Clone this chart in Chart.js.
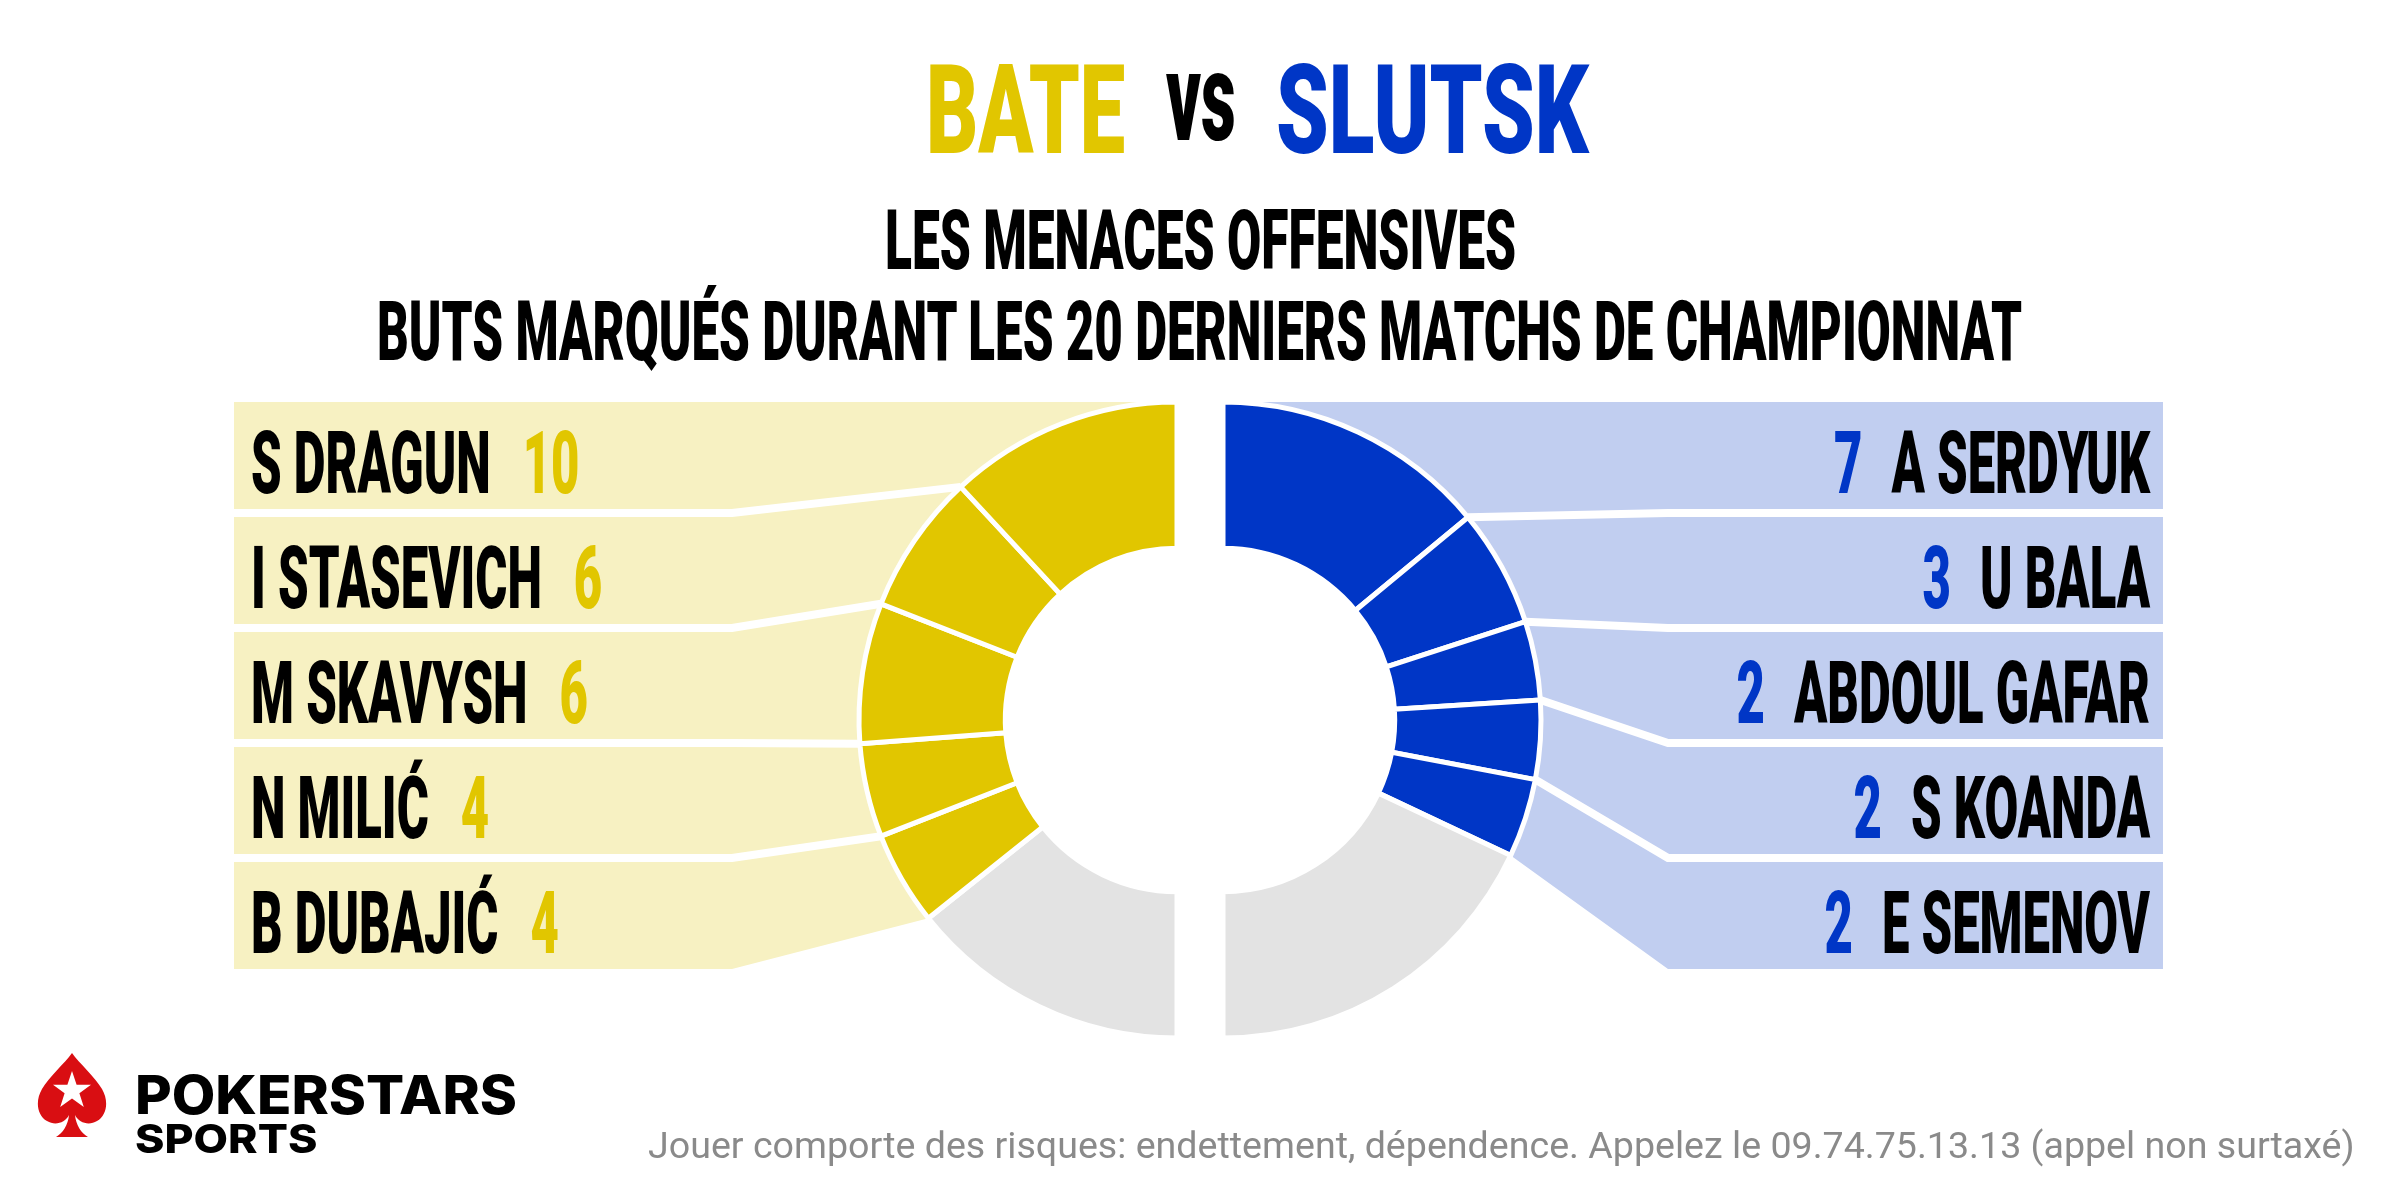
<!DOCTYPE html>
<html lang="fr">
<head>
<meta charset="utf-8">
<title>BATE vs SLUTSK - les menaces offensives</title>
<script src="https://cdn.jsdelivr.net/npm/chart.js@4.4.1/dist/chart.umd.min.js"></script>
<style>
  html, body { margin: 0; padding: 0; background: #fff; }
  #page { position: relative; width: 2400px; height: 1200px; overflow: hidden; background: #fff; }
  #page canvas { position: absolute; top: 0; }
  #leftChart { left: 0; }
  #rightChart { left: 1200px; }
  .txt { position: absolute; white-space: nowrap; line-height: 1; font-family: Roboto, sans-serif; transform-origin: 0 0; }
  .title { font-size: 125px; font-weight: 900; }
  .sub { font-size: 84px; font-weight: 900; color: #000; }
  .logo { font-family: Inter, Roboto, sans-serif; font-weight: 800; color: #000; }
  #footer { font-size: 36px; font-weight: 400; color: #8a8a8a; }
  #spade { position: absolute; left: 37px; top: 1053px; }
</style>
</head>
<body>
<div id="page">
  <canvas id="leftChart" width="1200" height="1200"></canvas>
  <canvas id="rightChart" width="1200" height="1200"></canvas>

  <div class="txt title" id="tBate" style="color:#E1C600">BATE</div>
  <div class="txt title" id="tVs" style="color:#000">vs</div>
  <div class="txt title" id="tSlutsk" style="color:#0036C6">SLUTSK</div>
  <div class="txt sub" id="sub1">LES MENACES OFFENSIVES</div>
  <div class="txt sub" id="sub2">BUTS MARQUÉS DURANT LES 20 DERNIERS MATCHS DE CHAMPIONNAT</div>

  <svg id="spade" width="70" height="84" viewBox="0 0 70 84">
    <path fill="#D90E12" d="M35,0 C28,10 12,24 5,36 C-2,48 0,62 10,68 C18,73 28,70 32,62 C31,72 26,80 19,84 L51,84 C44,80 39,72 38,62 C42,70 52,73 60,68 C70,62 72,48 65,36 C58,24 42,10 35,0 Z"/>
    <path fill="#fff" d="M35,18 L39.6,31.7 L54,31.8 L42.4,40.3 L46.8,54 L35,45.6 L23.2,54 L27.6,40.3 L16,31.8 L30.4,31.7 Z"/>
  </svg>
  <div class="txt logo" id="logo1" style="font-size:53px">POKERSTARS</div>
  <div class="txt logo" id="logo2" style="font-size:40px">SPORTS</div>

  <div class="txt" id="footer">Jouer comporte des risques: endettement, dépendence. Appelez le 09.74.75.13.13 (appel non surtaxé)</div>
</div>

<script>
// ---- data ----
const bateNames = ['S DRAGUN', 'I STASEVICH', 'M SKAVYSH', 'N MILIĆ', 'B DUBAJIĆ'];
const bateGoals = [10, 6, 6, 4, 4];
const bateOther = 12;

const slutskNames = ['A SERDYUK', 'U BALA', 'ABDOUL GAFAR', 'S KOANDA', 'E SEMENOV'];
const slutskGoals = [7, 3, 2, 2, 2];
const slutskOther = 9;

// ---- look ----
const YELLOW = '#E1C600';
const YELLOW_LIGHT = '#F7F1C2';
const BLUE = '#0036C6';
const BLUE_LIGHT = '#C1CEF0';
const GREY = '#E3E3E3';

const CY = 720;          // donut centre (both halves)
const RADIUS = 318;
const CX_LEFT = 1177;
const CX_RIGHT = 1223;

const BAND_TOP = 402;
const ROW_H = 107;
const GAP = 8;
const LABEL_FONT = '900 87px Roboto';
const NARROW = 0.563;    // horizontal squeeze for the condensed labels

function rowLine(k, n) {
    if (k === 0) return BAND_TOP;
    if (k === n) return BAND_TOP + n * ROW_H + (n - 1) * GAP;
    return BAND_TOP + k * (ROW_H + GAP) - GAP / 2;
}

function drawNarrow(ctx, text, x, y, align, color) {
    ctx.save();
    ctx.translate(x, y);
    ctx.scale(NARROW, 1);
    ctx.textAlign = align;
    ctx.fillStyle = color;
    ctx.fillText(text, 0, 0);
    ctx.restore();
    return ctx.measureText(text).width * NARROW;
}

// outer points of the slice boundaries, top row first
function boundaryPoints(chart, side, n) {
    const arcs = chart.getDatasetMeta(0).data;
    const pts = [];
    for (let i = 0; i <= n; i++) {
        let a, ang;
        if (side === 'left') {
            a = arcs[Math.max(n - i, 1)];
            ang = i < n ? a.endAngle : a.startAngle;
        } else {
            a = arcs[Math.min(i, n - 1)];
            ang = i < n ? a.startAngle : a.endAngle;
        }
        pts.push([a.x + a.outerRadius * Math.cos(ang), a.y + a.outerRadius * Math.sin(ang)]);
    }
    return pts;
}

const bandPlugin = {
    id: 'bands',
    beforeDatasetsDraw(chart, args, opts) {
        const ctx = chart.ctx;
        const n = opts.names.length;
        const pts = boundaryPoints(chart, opts.side, n);

        ctx.save();
        ctx.fillStyle = opts.light;
        for (let i = 0; i < n; i++) {
            const y0 = rowLine(i, n), y1 = rowLine(i + 1, n);
            ctx.beginPath();
            ctx.moveTo(opts.edge, y0);
            ctx.lineTo(opts.kink, y0);
            ctx.lineTo(pts[i][0], pts[i][1]);
            ctx.lineTo(pts[i + 1][0], pts[i + 1][1]);
            ctx.lineTo(opts.kink, y1);
            ctx.lineTo(opts.edge, y1);
            ctx.closePath();
            ctx.fill();
        }
        // white separators between the bands
        ctx.strokeStyle = '#fff';
        ctx.lineWidth = GAP;
        ctx.lineJoin = 'miter';
        for (let k = 1; k < n; k++) {
            const y = rowLine(k, n);
            ctx.beginPath();
            ctx.moveTo(opts.edge, y);
            ctx.lineTo(opts.kink, y);
            ctx.lineTo(pts[k][0], pts[k][1]);
            ctx.stroke();
        }
        ctx.restore();
    },
    afterDatasetsDraw(chart, args, opts) {
        const ctx = chart.ctx;
        ctx.save();
        ctx.font = LABEL_FONT;
        ctx.textBaseline = 'alphabetic';
        opts.names.forEach((name, i) => {
            const base = BAND_TOP + i * (ROW_H + GAP) + 91;
            if (opts.side === 'left') {
                const x = opts.edge + 17;
                const w = drawNarrow(ctx, name, x, base, 'left', '#000');
                drawNarrow(ctx, String(opts.values[i]), x + w + 32, base, 'left', opts.dark);
            } else {
                const x = opts.edge - 13;
                const w = drawNarrow(ctx, name, x, base, 'right', '#000');
                drawNarrow(ctx, String(opts.values[i]), x - w - 29, base, 'right', opts.dark);
            }
        });
        ctx.restore();
    }
};

function halfDonut(canvasId, cfg) {
    return new Chart(document.getElementById(canvasId), {
        type: 'doughnut',
        data: {
            labels: cfg.labels,
            datasets: [{
                data: cfg.data,
                backgroundColor: cfg.colors,
                borderColor: '#fff',
                borderWidth: 5
            }]
        },
        options: {
            responsive: false,
            animation: false,
            events: [],
            rotation: cfg.rotation,
            circumference: 180,
            cutout: '54%',
            radius: RADIUS,
            layout: { padding: cfg.padding },
            plugins: {
                legend: { display: false },
                tooltip: { enabled: false },
                bands: cfg.bands
            }
        },
        plugins: [bandPlugin]
    });
}

// BATE: left half, drawn clockwise from the bottom, so the list is reversed
halfDonut('leftChart', {
    labels: ['Autres'].concat(bateNames.slice().reverse()),
    data: [bateOther].concat(bateGoals.slice().reverse()),
    colors: [GREY].concat(bateGoals.map(() => YELLOW)),
    rotation: 180,
    padding: { left: CX_LEFT - RADIUS, right: 1200 - CX_LEFT, top: CY - RADIUS, bottom: 1200 - CY - RADIUS },
    bands: { side: 'left', names: bateNames, values: bateGoals, light: YELLOW_LIGHT, dark: YELLOW, edge: 234, kink: 732 }
});

// SLUTSK: right half, clockwise from the top
const cxR = CX_RIGHT - 1200;
halfDonut('rightChart', {
    labels: slutskNames.concat(['Autres']),
    data: slutskGoals.concat([slutskOther]),
    colors: slutskGoals.map(() => BLUE).concat([GREY]),
    rotation: 0,
    padding: { left: cxR, right: 1200 - cxR - RADIUS, top: CY - RADIUS, bottom: 1200 - CY - RADIUS },
    bands: { side: 'right', names: slutskNames, values: slutskGoals, light: BLUE_LIGHT, dark: BLUE, edge: 963, kink: 468 }
});

// ---- headings, logo, footer ----
function fitText(id, left, top, width, ratio) {
    const el = document.getElementById(id);
    const size = parseFloat(getComputedStyle(el).fontSize);
    el.style.left = left + 'px';
    el.style.top = (top - ratio * size) + 'px';
    el.style.transform = 'scaleX(' + (width / el.offsetWidth) + ')';
}

fitText('tBate', 926, 64, 199, 0.131);
fitText('tVs', 1166, 74, 70, 0.314);
fitText('tSlutsk', 1276, 64, 313, 0.131);
fitText('sub1', 885, 210, 631, 0.131);
fitText('sub2', 377, 301, 1645, 0.131);
fitText('logo1', 135, 1076, 382, 0.1365);
fitText('logo2', 135, 1124, 182, 0.1365);
fitText('footer', 648, 1133, 1707, 0.131);
</script>
</body>
</html>
